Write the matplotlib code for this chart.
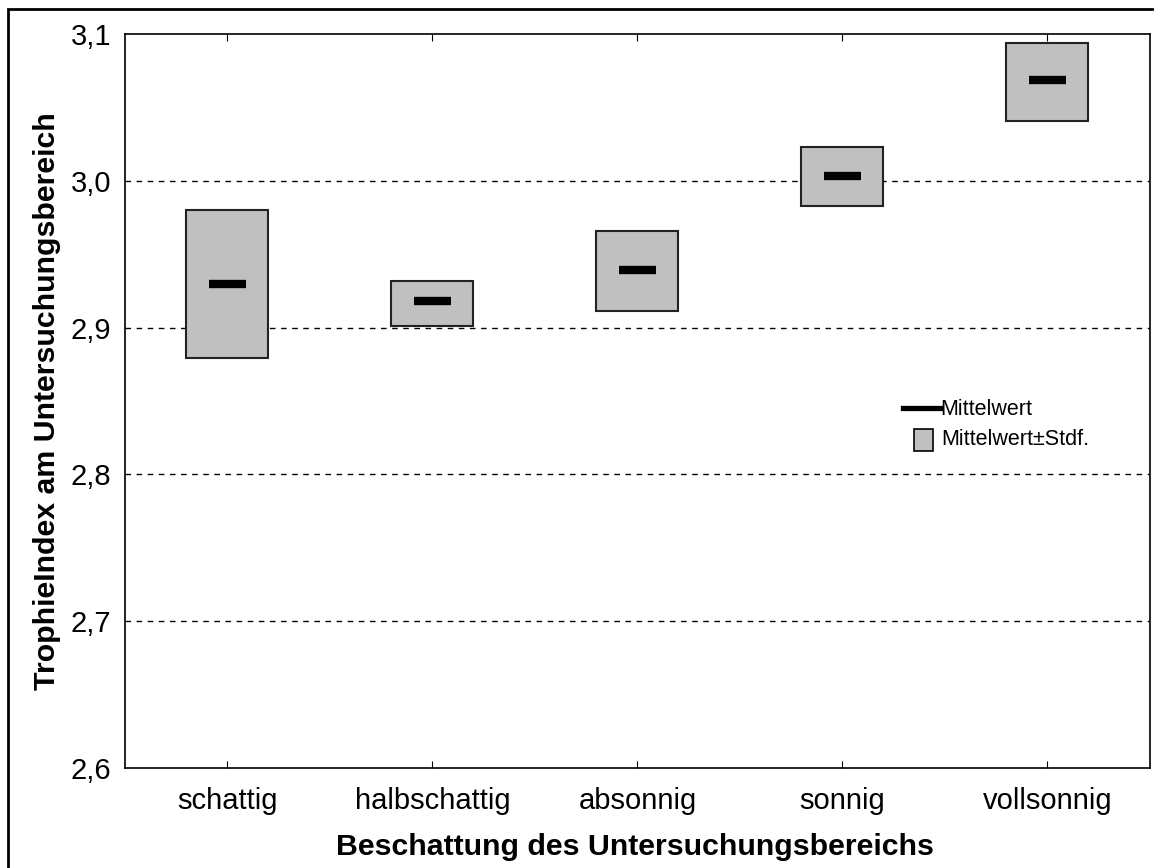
import matplotlib.pyplot as plt
import numpy as np
from matplotlib.lines import Line2D
from matplotlib.patches import Rectangle

plt.rcParams['font.family'] = ['Liberation Sans', 'DejaVu Sans']

# Values
categories = ['schattig', 'halbschattig', 'absonnig', 'sonnig', 'vollsonnig']
mean = [2.930, 2.918, 2.939, 3.003, 3.069]
lower = [2.879, 2.901, 2.911, 2.983, 3.041]   # Mittelwert - Stdf.
upper = [2.980, 2.932, 2.966, 3.023, 3.094]   # Mittelwert + Stdf.
yticks = [2.6, 2.7, 2.8, 2.9, 3.0, 3.1]

x = np.arange(len(categories))
lo = np.array(lower)
hi = np.array(upper)

fig = plt.figure(figsize=(11.54, 8.68), dpi=100)
ax = fig.add_axes([0.1083, 0.1152, 0.8882, 0.8456])

# grid lines behind the boxes
for y in yticks[1:-1]:
    ax.axhline(y, color='black', lw=1, ls=(0, (4, 4)), zorder=1)

ax.bar(x, hi - lo, bottom=lo, width=0.4, color='#c0c0c0', edgecolor='#222222',
       linewidth=1.5, zorder=2)
ax.hlines(mean, x - 0.09, x + 0.09, color='black', lw=6, zorder=3)

ax.set_xlim(-0.5, len(categories) - 0.5)
ax.set_ylim(2.6, 3.1)
ax.set_xticks(x)
ax.set_xticklabels(categories, fontsize=21)
ax.set_yticks(yticks)
ax.set_yticklabels([f'{v:.1f}'.replace('.', ',') for v in yticks], fontsize=21)
ax.tick_params(axis='x', direction='in', length=5, top=True, pad=14)
ax.tick_params(axis='y', length=0, pad=10)
for s in ax.spines.values():
    s.set_linewidth(1.2)

ax.set_xlabel('Beschattung des Untersuchungsbereichs', fontsize=21.8,
              fontweight='bold')
ax.xaxis.set_label_coords(0.498, -0.088)
ax.set_ylabel('TrophieIndex am Untersuchungsbereich', fontsize=21.8,
              fontweight='bold', labelpad=7)

# legend drawn by hand (line handle runs into the text as in the reference)
tA = ax.transAxes
ax.add_line(Line2D([0.759, 0.795], [0.4905, 0.4905], color='black', lw=3.8,
                   transform=tA, zorder=4))
ax.text(0.795, 0.488, 'Mittelwert', transform=tA, fontsize=15.5,
        va='center', ha='left')
ax.add_patch(Rectangle((0.770, 0.432), 0.0185, 0.030, transform=tA,
                       facecolor='#c0c0c0', edgecolor='black', lw=1.2, zorder=4))
ax.text(0.7965, 0.447, 'Mittelwert±Stdf.', transform=tA, fontsize=15.5,
        va='center', ha='left')

# outer frame of the figure
fig.patches.append(Rectangle((8 / 1154, -0.1), 1.2, 1.1 - 9 / 868,
                             transform=fig.transFigure, fill=False,
                             edgecolor='black', lw=2, clip_on=False))

fig.savefig('out.png', dpi=100)
